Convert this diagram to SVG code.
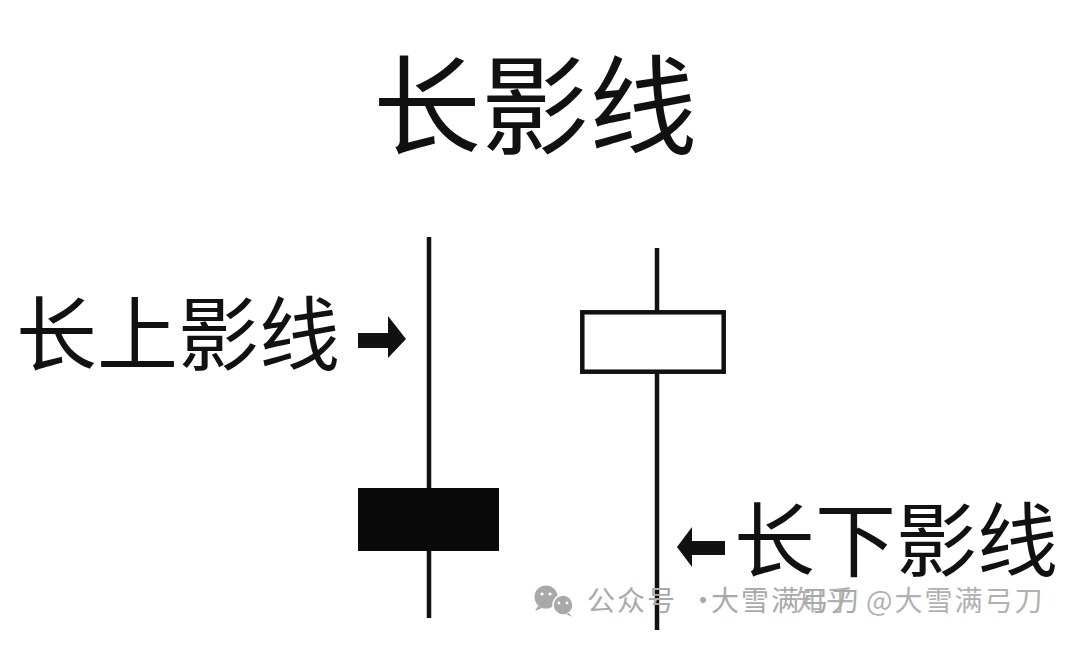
<svg xmlns="http://www.w3.org/2000/svg" width="1080" height="645" viewBox="0 0 1080 645">
  <style>
    .cjk { font-family: "Noto Sans CJK SC", "Noto Sans", sans-serif; fill: #111; font-weight: 400; }
    .wick { stroke: #111; stroke-width: 4.5; fill: none; }
    .wm { font-family: "Noto Sans CJK SC", "Noto Sans", sans-serif; fill: #a9a9a9; font-size: 28px; letter-spacing: 2px; }
  </style>
  <rect width="1080" height="645" fill="#ffffff"/>
  <g id="title">
    <text class="cjk" x="535" y="146" font-size="108" text-anchor="middle">长影线</text>
  </g>
  <g id="label-upper">
    <text class="cjk" x="16" y="364" font-size="81">长上影线</text>
  </g>
  <g id="label-lower">
    <text class="cjk" x="734" y="570" font-size="81">长下影线</text>
  </g>
  <g id="candle-left">
    <line class="wick" x1="429" y1="237" x2="429" y2="618"/>
    <rect x="358" y="488" width="141" height="63" fill="#0a0a0a"/>
  </g>
  <g id="candle-right">
    <line class="wick" x1="657" y1="248" x2="657" y2="630"/>
    <rect x="582.3" y="312.3" width="141.4" height="59.4" fill="#ffffff" stroke="#111" stroke-width="4.5"/>
  </g>
  <g id="connectors">
    <polygon points="358,333 388,333 388,316 406,339 388,358 388,348 358,348" fill="#111"/>
    <polygon points="725,541 692,541 692,527 677,547 692,567 692,555 725,555" fill="#111"/>
  </g>
  <g id="watermark">
    <circle cx="546" cy="597" r="11.5" fill="#a9a9a9"/>
    <path d="M538,606 L535,611 L542,608 Z" fill="#a9a9a9"/>
    <circle cx="563" cy="605" r="10" fill="#a9a9a9" stroke="#fff" stroke-width="1.5"/>
    <path d="M569,613 L572,617 L566,614 Z" fill="#a9a9a9"/>
    <circle cx="542" cy="594" r="1.6" fill="#fff"/>
    <circle cx="550" cy="594" r="1.6" fill="#fff"/>
    <circle cx="559" cy="603" r="1.4" fill="#fff"/>
    <circle cx="567" cy="603" r="1.4" fill="#fff"/>
    <text class="wm" y="611"><tspan x="587">公众号</tspan><tspan x="689">·</tspan><tspan x="711">大雪满弓刀</tspan></text>
    <text class="wm" y="611" opacity="0.9"><tspan x="796">知乎</tspan><tspan x="866">@大雪满弓刀</tspan></text>
  </g>
</svg>
